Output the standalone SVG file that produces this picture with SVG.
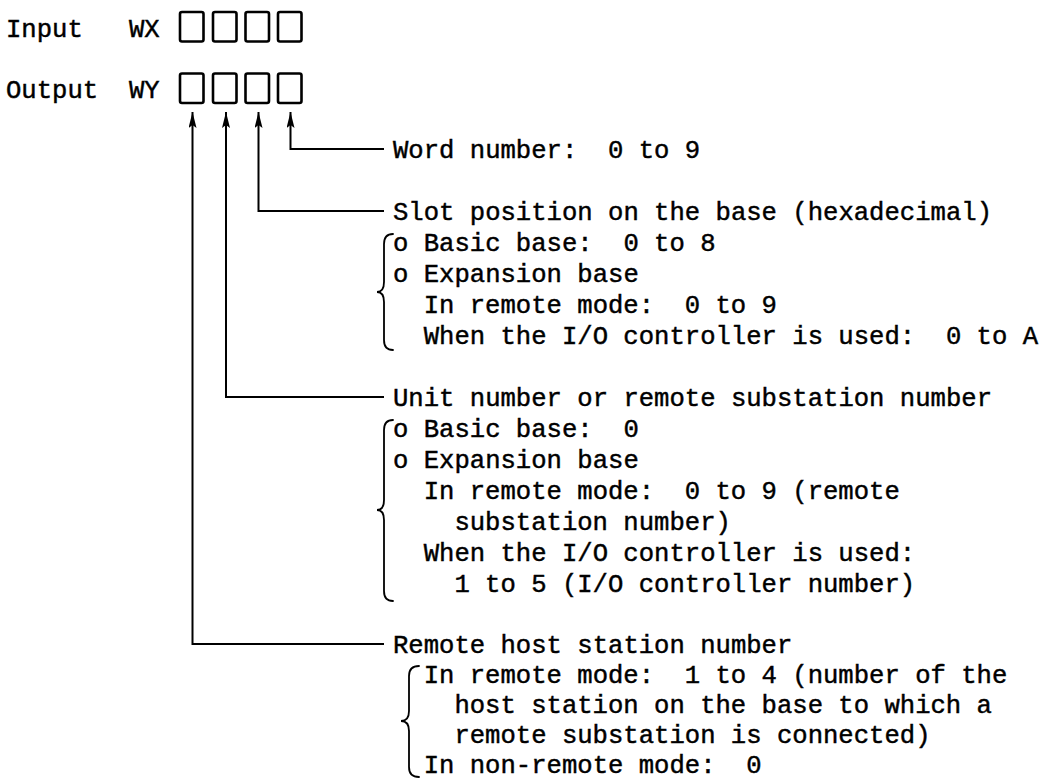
<svg xmlns="http://www.w3.org/2000/svg" width="1044" height="781" viewBox="0 0 1044 781" xml:space="preserve">
<style>
  text { font-family: "Liberation Mono", "DejaVu Sans Mono", monospace; font-size: 25.6px; fill: #000; stroke: #000; stroke-width: 0.45; white-space: pre; }
  .box { fill: none; stroke: #000; stroke-width: 2.6; }
  .conn { fill: none; stroke: #000; stroke-width: 2; }
  .brace { fill: none; stroke: #000; stroke-width: 1.8; stroke-linecap: round; }
</style>
<defs>
  <marker id="arrow" viewBox="0 0 16 8" refX="16" refY="4" markerWidth="16" markerHeight="8" markerUnits="userSpaceOnUse" orient="auto">
    <path d="M0,0 L16,4 L0,8 L3,4 z" fill="#000"/>
  </marker>
</defs>
<rect width="1044" height="781" fill="#fff"/>

<g id="input-row">
  <text x="6" y="36.5">Input</text>
  <text x="128.9" y="36.5">WX</text>
  <rect class="box" x="180" y="12" width="23.5" height="29.5" rx="2"/>
  <rect class="box" x="213" y="12" width="23.5" height="29.5" rx="2"/>
  <rect class="box" x="245.5" y="12" width="23.5" height="29.5" rx="2"/>
  <rect class="box" x="278" y="12" width="23.5" height="29.5" rx="2"/>
</g>

<g id="output-row">
  <text x="6" y="97.5">Output</text>
  <text x="128.9" y="97.5">WY</text>
  <rect class="box" x="180" y="73.5" width="23.5" height="29.5" rx="2"/>
  <rect class="box" x="213" y="73.5" width="23.5" height="29.5" rx="2"/>
  <rect class="box" x="245.5" y="73.5" width="23.5" height="29.5" rx="2"/>
  <rect class="box" x="278" y="73.5" width="23.5" height="29.5" rx="2"/>
</g>

<g id="connectors">
  <path class="conn" d="M384,149 H290.5 V112" marker-end="url(#arrow)"/>
  <path class="conn" d="M384,211 H258.5 V112" marker-end="url(#arrow)"/>
  <path class="conn" d="M384,397 H226 V112" marker-end="url(#arrow)"/>
  <path class="conn" d="M384,644 H192.5 V112" marker-end="url(#arrow)"/>
</g>

<g id="word-number">
  <text x="393" y="157.5">Word number:  0 to 9</text>
</g>

<g id="slot-position">
  <text x="393" y="219.5">Slot position on the base (hexadecimal)</text>
  <path class="brace" d="M393,234 Q384,234 384,244 L384,282 Q384,292 377,292 Q384,292 384,302 L384,340 Q384,350 393,350"/>
  <text x="393" y="250.5">o Basic base:  0 to 8</text>
  <text x="393" y="281.5">o Expansion base</text>
  <text x="423.7" y="312.5">In remote mode:  0 to 9</text>
  <text x="423.7" y="343.5">When the I/O controller is used:  0 to A</text>
</g>

<g id="unit-number">
  <text x="393" y="405.5">Unit number or remote substation number</text>
  <path class="brace" d="M393,420 Q384,420 384,430 L384,500 Q384,510 377,510 Q384,510 384,520 L384,591 Q384,601 393,601"/>
  <text x="393" y="436.5">o Basic base:  0</text>
  <text x="393" y="467.5">o Expansion base</text>
  <text x="423.7" y="498.5">In remote mode:  0 to 9 (remote</text>
  <text x="454.4" y="529.5">substation number)</text>
  <text x="423.7" y="560.5">When the I/O controller is used:</text>
  <text x="454.4" y="591.5">1 to 5 (I/O controller number)</text>
</g>

<g id="host-station">
  <text x="393" y="652.5">Remote host station number</text>
  <path class="brace" d="M419,666 Q409,666 409,676 L409,711 Q409,721 401,721 Q409,721 409,731 L409,767 Q409,777 419,777"/>
  <text x="423.7" y="683">In remote mode:  1 to 4 (number of the</text>
  <text x="454.4" y="713">host station on the base to which a</text>
  <text x="454.4" y="743">remote substation is connected)</text>
  <text x="423.7" y="773">In non-remote mode:  0</text>
</g>
</svg>
